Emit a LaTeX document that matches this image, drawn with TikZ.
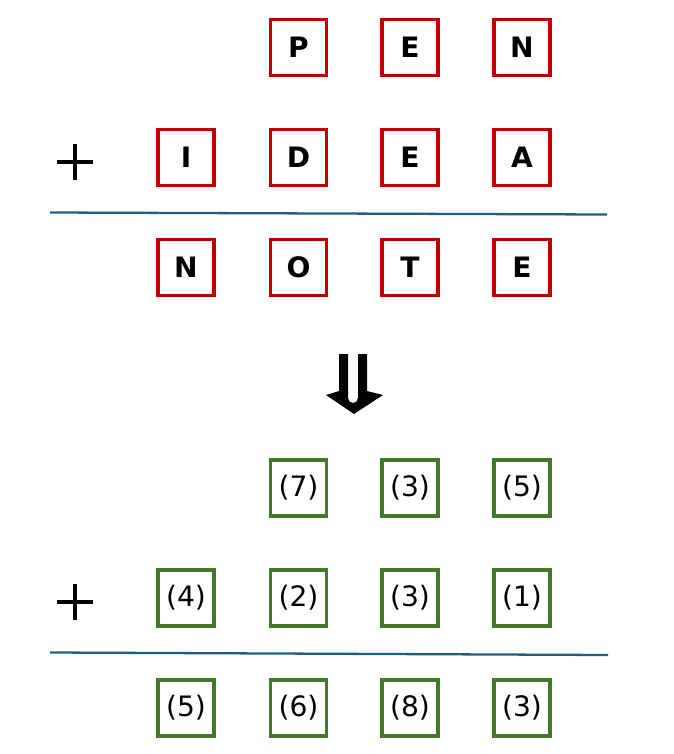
\documentclass[tikz,border=0pt]{standalone}
\usepackage{fontspec}
\setmainfont{DejaVu Sans}
\definecolor{boxred}{RGB}{192,0,0}
\definecolor{boxgreen}{RGB}{64,122,40}
\definecolor{rulecol}{RGB}{31,95,130}
\tikzset{
  letter/.style={draw=boxred, line width=2.1pt, minimum size=1.12cm, inner sep=0pt, font=\fontsize{16}{18}\selectfont\bfseries},
  digit/.style={draw=boxgreen, line width=2.1pt, minimum size=1.12cm, inner sep=0pt, font=\fontsize{16}{18}\selectfont},
  sumrule/.style={rulecol, line width=1.3pt},
  plus/.style={black, line width=2.7pt}
}
\begin{document}
\begin{tikzpicture}[scale=0.2]
        \useasboundingbox (0,0) rectangle (67.4,-75.4);
        % letters
        \node [letter] (a2) at (29.85,-4.75) {P};
        \node [letter] (a3) at (41.0,-4.75) {E};
        \node [letter] (a4) at (52.2,-4.75) {N};
        \node [letter] (b1) at (18.6,-15.75) {I};
        \node [letter] (b2) at (29.85,-15.75) {D};
        \node [letter] (b3) at (41.0,-15.75) {E};
        \node [letter] (b4) at (52.2,-15.75) {A};
        \node [letter] (c1) at (18.6,-26.75) {N};
        \node [letter] (c2) at (29.85,-26.75) {O};
        \node [letter] (c3) at (41.0,-26.75) {T};
        \node [letter] (c4) at (52.2,-26.75) {E};
        \draw [plus] (5.7,-16.2) -- (9.3,-16.2);
        \draw [plus] (7.5,-14.4) -- (7.5,-18.0);
        \draw [sumrule] (5.0,-21.25) -- (60.7,-21.45);
        % arrow
        \fill [black] (33.9,-35.4) -- (34.8,-35.4) -- (34.8,-39.8) arc (180:360:0.5) -- (35.8,-35.4) -- (36.7,-35.4)
          -- (36.7,-39.1) -- (38.3,-39.5) -- (35.4,-41.4) -- (32.6,-39.5) -- (33.9,-39.1) -- cycle;
        % digits
        \node [digit] (x2) at (29.85,-48.8) {(7)};
        \node [digit] (x3) at (41.0,-48.8) {(3)};
        \node [digit] (x4) at (52.2,-48.8) {(5)};
        \node [digit] (y1) at (18.6,-59.8) {(4)};
        \node [digit] (y2) at (29.85,-59.8) {(2)};
        \node [digit] (y3) at (41.0,-59.8) {(3)};
        \node [digit] (y4) at (52.2,-59.8) {(1)};
        \node [digit] (z1) at (18.6,-70.8) {(5)};
        \node [digit] (z2) at (29.85,-70.8) {(6)};
        \node [digit] (z3) at (41.0,-70.8) {(8)};
        \node [digit] (z4) at (52.2,-70.8) {(3)};
        \draw [plus] (5.7,-60.2) -- (9.3,-60.2);
        \draw [plus] (7.5,-58.4) -- (7.5,-62.0);
        \draw [sumrule] (5.0,-65.25) -- (60.8,-65.5);
\end{tikzpicture}
\end{document}
